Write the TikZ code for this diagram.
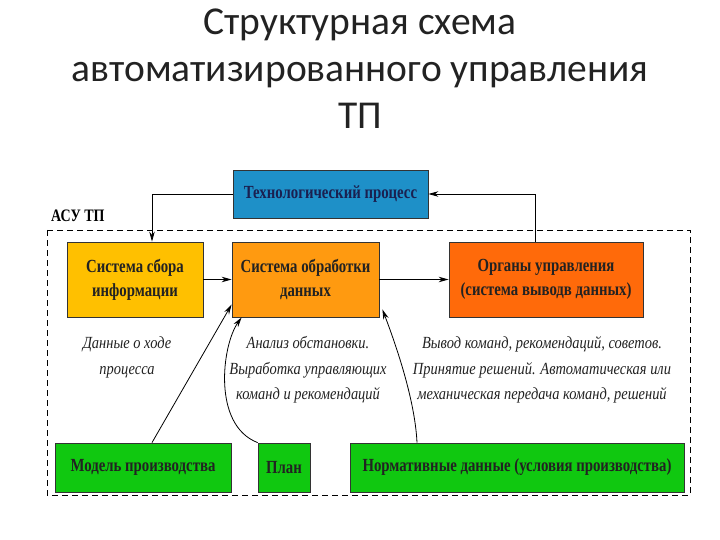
\documentclass[tikz,border=0pt]{standalone}
\usepackage{fontspec}
\usetikzlibrary{arrows.meta,calc}
\setmainfont{Carlito}
\newfontfamily\boxfont[FakeStretch=0.8]{Liberation Serif}
\newfontfamily\notefont[FakeStretch=0.85]{Liberation Serif}
\definecolor{tpblue}{HTML}{1E90C8}
\definecolor{tpnavy}{HTML}{1A2050}
\definecolor{sbyellow}{HTML}{FFC000}
\definecolor{soorange}{HTML}{FF9A10}
\definecolor{ogorange}{HTML}{FF6A0A}
\definecolor{mgreen}{HTML}{10C810}
\definecolor{txt}{HTML}{222222}
\tikzset{
  blk/.style={draw=black!80, line width=0.8pt, inner sep=2pt, align=center,
    font=\boxfont\bfseries\fontsize{18.5}{24}\selectfont, text=txt},
  note/.style={align=center, font=\notefont\itshape\fontsize{17}{25.5}\selectfont, text=txt, inner sep=0pt},
  conn/.style={draw=black, line width=0.8pt, -{Stealth[length=10pt,width=5.5pt]}},
}
\begin{document}
\begin{tikzpicture}[x=1pt,y=-1pt]
\useasboundingbox (0,0) rectangle (720,540);
% title
\node[font=\fontsize{39.5}{47}\selectfont, align=center, text=txt, inner sep=0pt] (title) at (360,69)
  {Структурная схема\\автоматизированного управления\\ТП};
% dashed frame
\draw[dashed, dash pattern=on 6pt off 4pt, line width=0.8pt] (47,230) rectangle (690,495);
\node[font=\boxfont\bfseries\fontsize{17.5}{20}\selectfont, anchor=west, inner sep=0pt] (asu) at (51,216) {АСУ ТП};
% boxes
\node[blk, fill=tpblue, text=tpnavy, minimum width=195pt, minimum height=48pt] (tp) at (330.5,194) {Технологический процесс};
\node[blk, fill=sbyellow, minimum width=136pt, minimum height=75pt] (sb) at (135,279.5) {Система сбора\\информации};
\node[blk, fill=soorange, minimum width=147pt, minimum height=75pt] (so) at (305.5,279.5) {Система обработки\\данных};
\node[blk, fill=ogorange, minimum width=194pt, minimum height=75pt] (og) at (546,279.5) {Органы управления\\(система выводв данных)};
\node[blk, fill=mgreen, minimum width=176pt, minimum height=49pt] (mp) at (143,467.5) {Модель производства};
\node[blk, fill=mgreen, minimum width=52pt, minimum height=49pt] (pl) at (284,467.5) {План};
\node[blk, fill=mgreen, minimum width=334pt, minimum height=49pt] (nd) at (517,467.5) {Нормативные данные (условия производства)};
% notes
\node[note] (n1) at (127,357.5) {Данные о ходе\\процесса};
\node[note] (n2) at (308,370) {Анализ обстановки.\\Выработка управляющих\\команд и рекомендаций};
\node[note] (n3) at (542,370) {Вывод команд, рекомендаций, советов.\\Принятие решений. Автоматическая или\\механическая передача команд, решений};
% connectors
\draw[conn] (tp.west) -| ([xshift=17pt]sb.north);
\draw[conn] ([xshift=-11pt]og.north) |- (tp.east);
\draw[conn] (sb.east) -- (so.west);
\draw[conn] (so.east) -- (og.west);
\draw[conn] ([xshift=9pt]mp.north) -- ([yshift=-25pt]so.west);
\draw[conn] (pl.north west) .. controls (212,425) and (222,345) .. ([xshift=10pt]so.south west);
\draw[conn] ([xshift=-100pt]nd.north) .. controls (415,400) and (396,345) .. ([xshift=3pt,yshift=8pt]so.south east);
\end{tikzpicture}
\end{document}
